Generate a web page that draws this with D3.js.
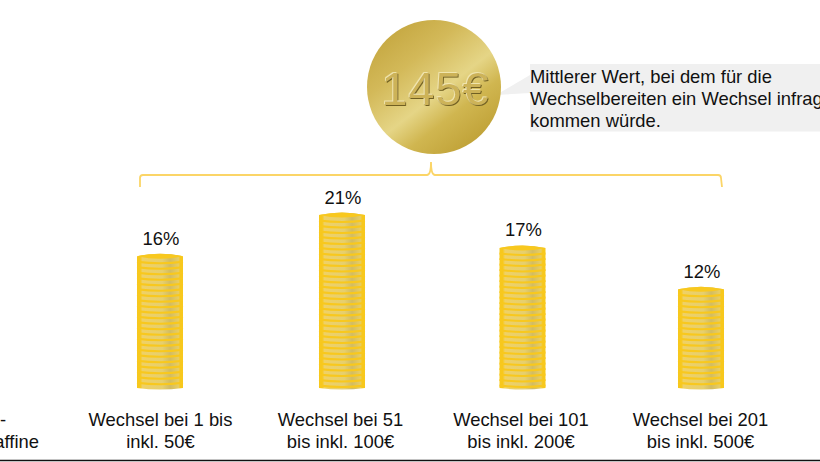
<!DOCTYPE html>
<html>
<head>
<meta charset="utf-8">
<script src="https://cdn.jsdelivr.net/npm/d3@7"></script>
<style>
html, body { margin: 0; padding: 0; background: #fff; overflow: hidden; }
text { font-family: "Liberation Sans", Arial, sans-serif; fill: #111; }
</style>
</head>
<body>
<div id="chart"></div>
<script>
// Values
var categories = ["r1", "r2", "r3", "r4"];
var values = [16, 21, 17, 12];
var labelLine1 = ["Wechsel bei 1 bis", "Wechsel bei 51", "Wechsel bei 101", "Wechsel bei 201"];
var labelLine2 = ["inkl. 50€", "bis inkl. 100€", "bis inkl. 200€", "bis inkl. 500€"];
var calloutLines = ["Mittlerer Wert, bei dem für die", "Wechselbereiten ein Wechsel infrage", "kommen würde."];
var coinLabel = "145€";
var cutLabels = ["-", "affine"];

var width = 820, height = 462;
var baseline = 388;
var barWidth = 46;
var coinStep = 5.5;
var fontSize = 18.4;

var svg = d3.select("#chart").append("svg")
    .attr("width", width)
    .attr("height", height)
    .style("display", "block");

var y = d3.scaleLinear().domain([0, 21]).range([baseline, 215]);
// the stacks are not quite evenly spaced
var x = d3.scaleOrdinal().domain(categories).range([160, 342, 522.5, 701]);
var labelX = d3.scaleOrdinal().domain(categories).range([160.5, 340.5, 521, 700.5]);

var defs = svg.append("defs");

// gold coin, diagonal sheen
var grad = defs.append("linearGradient").attr("id", "gold")
    .attr("x1", "0.15").attr("y1", "0.05").attr("x2", "0.85").attr("y2", "0.95");
[[0, "#c4a63f"], [0.28, "#d3b959"], [0.55, "#e5d586"], [0.72, "#d0b650"], [1, "#bd9e33"]].forEach(function(s) {
    grad.append("stop").attr("offset", s[0]).attr("stop-color", s[1]);
});

// stamped look for the coin text, one light and one dark edge
var stamp = defs.append("filter").attr("id", "stamp")
    .attr("x", "-5%").attr("y", "-10%").attr("width", "110%").attr("height", "120%");
stamp.append("feDropShadow")
    .attr("dx", -0.8).attr("dy", -0.8).attr("stdDeviation", 0.3)
    .attr("flood-color", "#f5ecbc").attr("result", "lit");
stamp.append("feDropShadow")
    .attr("in", "lit")
    .attr("dx", 0.9).attr("dy", 1).attr("stdDeviation", 0.3)
    .attr("flood-color", "#6f5e20");

// one coin face, a little duller right of the middle like the stack in the picture
var face = defs.append("linearGradient").attr("id", "face");
[[0, "#f7c81c"], [0.07, "#f7c81c"], [0.12, "#efd166"], [0.55, "#e6cf6e"], [0.72, "#d2bc62"], [0.9, "#e8cd62"], [0.94, "#f7c81c"], [1, "#f7c81c"]].forEach(function(s) {
    face.append("stop").attr("offset", s[0]).attr("stop-color", s[1]);
});

// callout box and pointer
svg.append("path")
    .attr("d", "M496,95L530,75L530,93Z")
    .attr("fill", "#f0f0f0");
svg.append("rect")
    .attr("x", 530).attr("y", 64)
    .attr("width", 290).attr("height", 67.5)
    .attr("fill", "#f0f0f0");
svg.selectAll("text.callout")
    .data(calloutLines)
    .enter().append("text")
    .attr("class", "callout")
    .attr("x", 530)
    .attr("y", function(d, i) { return 83 + i * 22; })
    .attr("font-size", fontSize)
    .text(function(d) { return d; });

// coin
svg.append("circle")
    .attr("cx", 434).attr("cy", 87).attr("r", 67)
    .attr("fill", "url(#gold)");
svg.append("text")
    .attr("x", 435.5).attr("y", 105)
    .attr("text-anchor", "middle")
    .attr("font-size", 46.5)
    .attr("letter-spacing", 1.2)
    .style("fill", "#cdb359")
    .attr("filter", "url(#stamp)")
    .text(coinLabel);

// bracket
svg.append("path")
    .attr("d", "M140,187L140,178Q140,175 143,175L427,175Q431,175 431,162Q431,175 435,175L718,175Q721,175 721,178L722,187")
    .attr("fill", "none")
    .attr("stroke", "#fbd567")
    .attr("stroke-width", 1.8);

// stacks
var bars = svg.selectAll("g.stack")
    .data(values)
    .enter().append("g")
    .attr("class", "stack")
    .attr("transform", function(d, i) { return "translate(" + x(categories[i]) + ",0)"; });

bars.append("path")
    .attr("d", function(d) {
        var t = y(d), w = barWidth / 2;
        return "M" + (-w) + "," + t + "Q0," + (t - 5) + " " + w + "," + t +
            "L" + w + "," + baseline + "Q0," + (baseline + 3) + " " + (-w) + "," + baseline + "Z";
    })
    .attr("fill", "url(#face)");

bars.each(function(d) {
    var g = d3.select(this);
    var t = y(d);
    g.append("path")
        .attr("d", "M-23," + t + "Q0," + (t - 5) + " 23," + t + "Q0," + (t + 5) + " -23," + t + "Z")
        .attr("fill", "#f8c81e");
    d3.range(t + coinStep, baseline, coinStep).forEach(function(ly) {
        g.append("path")
            .attr("d", "M-23," + ly + "Q0," + (ly + 3) + " 23," + ly)
            .attr("fill", "none")
            .attr("stroke", "#f8c81e")
            .attr("stroke-width", 2);
    });
});

// value labels
bars.append("text")
    .attr("x", 1)
    .attr("y", function(d) { return y(d) - 11.5; })
    .attr("text-anchor", "middle")
    .attr("font-size", fontSize)
    .text(function(d) { return d + "%"; });

// category labels
svg.selectAll("text.cat1")
    .data(categories)
    .enter().append("text")
    .attr("class", "cat1")
    .attr("x", function(d) { return labelX(d); })
    .attr("y", 426)
    .attr("text-anchor", "middle")
    .attr("font-size", fontSize)
    .text(function(d, i) { return labelLine1[i]; });
svg.selectAll("text.cat2")
    .data(categories)
    .enter().append("text")
    .attr("class", "cat2")
    .attr("x", function(d) { return labelX(d); })
    .attr("y", 448)
    .attr("text-anchor", "middle")
    .attr("font-size", fontSize)
    .text(function(d, i) { return labelLine2[i]; });

// labels cut by the left edge
svg.append("text").attr("x", 0).attr("y", 426).attr("font-size", fontSize).text(cutLabels[0]);
svg.append("text").attr("x", 39).attr("y", 448).attr("text-anchor", "end").attr("font-size", fontSize).text(cutLabels[1]);

// bottom rule
svg.append("line")
    .attr("x1", 0).attr("x2", width)
    .attr("y1", 460.5).attr("y2", 460.5)
    .attr("stroke", "#111")
    .attr("stroke-width", 1.5);
</script>
</body>
</html>
